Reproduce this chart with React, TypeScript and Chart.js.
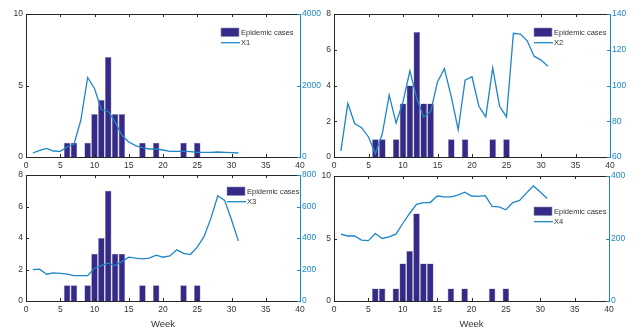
import React, { useEffect, useRef } from 'react';
import { Chart, registerables } from 'chart.js';
Chart.register(...registerables);

// ---------- data ----------
const caseWeeks = [6, 7, 9, 10, 11, 12, 13, 14, 17, 19, 23, 25];
const caseCounts = [1, 1, 1, 3, 4, 7, 3, 3, 1, 1, 1, 1];
const lineWeeks = [1, 2, 3, 4, 5, 6, 7, 8, 9, 10, 11, 12, 13, 14, 15, 16, 17, 18, 19, 20, 21, 22, 23, 24, 25, 26, 27, 28, 29, 30, 31];
const x1Values = [112, 187, 243, 168, 159, 280, 355, 1028, 2224, 1916, 1327, 1280, 981, 607, 420, 318, 262, 224, 224, 196, 159, 159, 159, 150, 131, 131, 131, 140, 131, 121, 112];
const x2Values = [63.4, 89.9, 78.7, 76.4, 71.2, 61.9, 73, 94.6, 79, 90.8, 108.2, 92.7, 82.4, 85.2, 102, 109.5, 93.6, 75.3, 103, 104.9, 88.4, 82.4, 109.9, 88.4, 82.4, 129.2, 128.8, 125, 116.4, 114.2, 110.8];
const x3Values = [199, 202, 170, 178, 176, 170, 161, 161, 161, 208, 225, 240, 225, 250, 278, 272, 267, 272, 291, 278, 286, 325, 303, 295, 342, 410, 526, 668, 639, 516, 382];
const x4Values = [214, 208, 208, 195, 193, 216, 200, 205, 214, 248, 280, 309, 315, 315, 336, 333, 333, 339, 348, 336, 335, 337, 303, 301, 292, 315, 322, 346, 368, 349, 328];
const seriesNames = ['X1', 'X2', 'X3', 'X4'];
const seriesValues = [x1Values, x2Values, x3Values, x4Values];
const barLabel = 'Epidemic cases';
const xLabel = 'Week';
// axis ranges [min, max, step]
const leftRanges = [[0, 10, 5], [0, 8, 2], [0, 8, 2], [0, 10, 5]];
const rightRanges = [[0, 4000, 2000], [60, 140, 20], [0, 800, 200], [0, 400, 200]];
const xRange = [0, 40, 5];

// ---------- layout / style ----------
const W = 639;
const H = 333;
const layouts = [
  { left: 26, right: 300, top: 14, bottom: 157, legendX: 221, legendY: 28, showTitle: false },
  { left: 334, right: 610, top: 14, bottom: 157, legendX: 534, legendY: 28, showTitle: false },
  { left: 26, right: 300, top: 175, bottom: 301, legendX: 227, legendY: 187, showTitle: true },
  { left: 334, right: 609, top: 176, bottom: 301, legendX: 534, legendY: 207, showTitle: true },
];
const BAR_COLOR = '#352A87';
const BAR_EDGE = '#8e8ea6';
const LINE_COLOR = '#1C86C8';
const TEXT_COLOR = '#333333';
const FONT = "'Liberation Sans', Arial, sans-serif";

const plainNumber = (v: any) => String(v);

const framePlugin = {
  id: 'frame',
  afterDatasetsDraw(chart: any, _args: any, opts: any) {
    const { ctx, chartArea, scales } = chart;
    const { left, right, top, bottom } = chartArea;
    const tl = 3;
    ctx.save();
    ctx.lineWidth = 1;
    ctx.strokeStyle = '#262626';
    ctx.beginPath();
    scales.x.ticks.forEach((t: any) => {
      const px = Math.round(scales.x.getPixelForValue(t.value)) + 0.5;
      ctx.moveTo(px, bottom);
      ctx.lineTo(px, bottom - tl);
      ctx.moveTo(px, top);
      ctx.lineTo(px, top + tl);
    });
    scales.y.ticks.forEach((t: any) => {
      const py = Math.round(scales.y.getPixelForValue(t.value)) + 0.5;
      ctx.moveTo(left, py);
      ctx.lineTo(left + tl, py);
    });
    ctx.moveTo(left + 0.5, bottom + 0.5);
    ctx.lineTo(left + 0.5, top + 0.5);
    ctx.lineTo(right + 0.5, top + 0.5);
    ctx.moveTo(left + 0.5, bottom + 0.5);
    ctx.lineTo(right + 0.5, bottom + 0.5);
    ctx.stroke();
    ctx.strokeStyle = LINE_COLOR;
    ctx.beginPath();
    scales.y1.ticks.forEach((t: any) => {
      const py = Math.round(scales.y1.getPixelForValue(t.value)) + 0.5;
      ctx.moveTo(right, py);
      ctx.lineTo(right - tl, py);
    });
    ctx.moveTo(right + 0.5, top);
    ctx.lineTo(right + 0.5, bottom + 1);
    ctx.stroke();

    // legend
    const lx = opts.x;
    const ly = opts.y;
    ctx.fillStyle = BAR_COLOR;
    ctx.fillRect(lx, ly, 18, 8.5);
    ctx.strokeStyle = BAR_EDGE;
    ctx.lineWidth = 0.6;
    ctx.strokeRect(lx, ly, 18, 8.5);
    ctx.strokeStyle = LINE_COLOR;
    ctx.lineWidth = 1.3;
    ctx.beginPath();
    ctx.moveTo(lx, ly + 14.7);
    ctx.lineTo(lx + 19, ly + 14.7);
    ctx.stroke();
    ctx.fillStyle = TEXT_COLOR;
    ctx.font = `7.5px ${FONT}`;
    ctx.textBaseline = 'middle';
    ctx.textAlign = 'left';
    ctx.fillText(opts.barText, lx + 20, ly + 4.6);
    ctx.fillText(opts.lineText, lx + 20, ly + 14.7);
    ctx.restore();
  },
};

function Panel({ index }: { index: number }) {
  const ref = useRef<HTMLCanvasElement | null>(null);
  useEffect(() => {
    const L = layouts[index];
    const [lmin, lmax, lstep] = leftRanges[index];
    const [rmin, rmax, rstep] = rightRanges[index];
    const chart = new Chart(ref.current as HTMLCanvasElement, {
      type: 'bar',
      data: {
        datasets: [
          {
            type: 'line',
            label: seriesNames[index],
            data: lineWeeks.map((w, i) => ({ x: w, y: seriesValues[index][i] })),
            yAxisID: 'y1',
            borderColor: LINE_COLOR,
            borderWidth: 1.3,
            pointRadius: 0,
            tension: 0,
            order: 0,
          } as any,
          {
            type: 'bar',
            label: barLabel,
            data: caseWeeks.map((w, i) => ({ x: w, y: caseCounts[i] })),
            yAxisID: 'y',
            backgroundColor: BAR_COLOR,
            borderColor: BAR_EDGE,
            borderWidth: 0.6,
            barPercentage: 1,
            categoryPercentage: 0.96,
            order: 1,
          } as any,
        ],
      },
      options: {
        responsive: false,
        animation: false,
        devicePixelRatio: 1,
        layout: { padding: { top: L.top, left: 0, right: 0, bottom: 0 } },
        plugins: {
          legend: { display: false },
          tooltip: { enabled: false },
          frame: { x: L.legendX, y: L.legendY, barText: barLabel, lineText: seriesNames[index] },
        } as any,
        scales: {
          x: {
            type: 'linear',
            min: xRange[0],
            max: xRange[1],
            offset: false,
            ticks: { stepSize: xRange[2], padding: 4, color: TEXT_COLOR, font: { family: FONT, size: 8.5 }, maxRotation: 0, callback: plainNumber },
            grid: { display: false, drawTicks: false },
            border: { display: false },
            title: {
              display: L.showTitle,
              text: xLabel,
              color: TEXT_COLOR,
              font: { family: FONT, size: 9.5 },
              padding: { top: 0, bottom: 3 },
            },
            afterFit: (s: any) => { s.height = H - L.bottom; },
          },
          y: {
            type: 'linear',
            position: 'left',
            min: lmin,
            max: lmax,
            ticks: { stepSize: lstep, padding: 3, color: TEXT_COLOR, font: { family: FONT, size: 8.5 }, callback: plainNumber },
            grid: { display: false, drawTicks: false },
            border: { display: false },
            afterFit: (s: any) => { s.width = L.left; },
          },
          y1: {
            type: 'linear',
            position: 'right',
            min: rmin,
            max: rmax,
            ticks: { stepSize: rstep, padding: 2, color: LINE_COLOR, font: { family: FONT, size: 8.5 }, callback: plainNumber },
            grid: { display: false, drawTicks: false },
            border: { display: false },
            afterFit: (s: any) => { s.width = W - L.right; },
          },
        } as any,
      },
      plugins: [framePlugin as any],
    });
    return () => chart.destroy();
  }, [index]);
  return (
    <canvas
      ref={ref}
      width={W}
      height={H}
      style={{ position: 'absolute', left: 0, top: 0, width: W, height: H }}
    />
  );
}

export default function App() {
  return (
    <div style={{ position: 'absolute', left: 0, top: 0, width: W, height: H, background: '#ffffff' }}>
      {[0, 1, 2, 3].map((i) => (
        <Panel key={i} index={i} />
      ))}
    </div>
  );
}
